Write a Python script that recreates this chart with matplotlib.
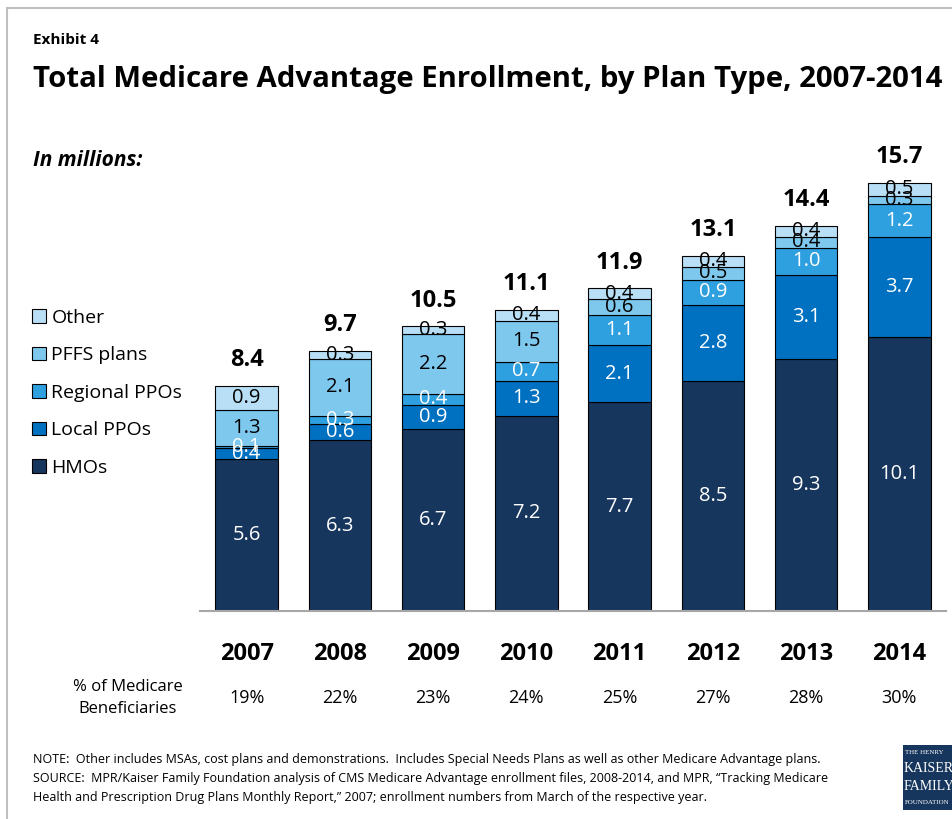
import matplotlib
matplotlib.use("Agg")
import matplotlib.pyplot as plt
from matplotlib.patches import Rectangle, Patch
import numpy as np

years = ["2007", "2008", "2009", "2010", "2011", "2012", "2013", "2014"]
hmos = [5.6, 6.3, 6.7, 7.2, 7.7, 8.5, 9.3, 10.1]
local_ppos = [0.4, 0.6, 0.9, 1.3, 2.1, 2.8, 3.1, 3.7]
regional_ppos = [0.1, 0.3, 0.4, 0.7, 1.1, 0.9, 1.0, 1.2]
pffs = [1.3, 2.1, 2.2, 1.5, 0.6, 0.5, 0.4, 0.3]
other = [0.9, 0.3, 0.3, 0.4, 0.4, 0.4, 0.4, 0.5]
totals = ["8.4", "9.7", "10.5", "11.1", "11.9", "13.1", "14.4", "15.7"]
pct = ["19%", "22%", "23%", "24%", "25%", "27%", "28%", "30%"]

series = [
    ("HMOs", hmos, "#17365D", "white"),
    ("Local PPOs", local_ppos, "#0070C0", "white"),
    ("Regional PPOs", regional_ppos, "#2E9FDF", "white"),
    ("PFFS plans", pffs, "#7EC8EE", "black"),
    ("Other", other, "#B8DFF6", "black"),
]

FONT = ["Open Sans", "DejaVu Sans"]
plt.rcParams["font.family"] = FONT

W, H = 953, 819
fig = plt.figure(figsize=(W / 100, H / 100), dpi=100)

def fx(px):
    return px / W

def fy(py):
    return 1 - py / H

# axes: x from 200 to 946 px, baseline at 611 px
ax_left, ax_right = 200, 946
base, top = 611, 150
ax = fig.add_axes([fx(ax_left), fy(base), fx(ax_right - ax_left), (base - top) / H])
x = np.arange(len(years))
ymax = 17.0
ax.set_xlim(-0.5, 7.5)
ax.set_ylim(0, ymax)

bottom = np.zeros(len(years))
handles = []
for name, vals, color, tcol in series:
    v = np.array(vals)
    ax.bar(x, v, 0.67, bottom=bottom, color=color, edgecolor="black", linewidth=0.8)
    for i in range(len(years)):
        ax.text(x[i], bottom[i] + v[i] / 2, f"{v[i]:.1f}", ha="center", va="center",
                color=tcol, fontsize=14.5)
    bottom = bottom + v
    handles.append(Patch(facecolor=color, edgecolor="black", linewidth=0.8, label=name))

for i in range(len(years)):
    ax.text(x[i], bottom[i] + 0.5, totals[i], ha="center", va="bottom",
            fontsize=17, fontweight="bold")

for s in ["top", "right", "left"]:
    ax.spines[s].set_visible(False)
ax.spines["bottom"].set_color("#a6a6a6")
ax.spines["bottom"].set_linewidth(1.5)
ax.set_yticks([])
ax.set_xticks(x)
ax.set_xticklabels(years, fontsize=17, fontweight="bold")
ax.tick_params(axis="x", length=0, pad=22)

# percent row
yrow = -(698 - base) / (base - top)
for i in range(len(years)):
    ax.text(x[i], yrow, pct[i], transform=ax.get_xaxis_transform(), ha="center", va="center",
            fontsize=13)
fig.text(fx(128), fy(698), "% of Medicare\nBeneficiaries", ha="center", va="center",
         fontsize=12, linespacing=1.5)

# legend
leg = fig.legend(handles=handles[::-1], loc="upper left",
                 bbox_to_anchor=(fx(32), fy(309)), frameon=False, fontsize=14,
                 handlelength=0.7, handleheight=0.7, handletextpad=0.3,
                 labelspacing=1.0, borderaxespad=0, borderpad=0)

# titles
fig.text(fx(33), fy(40), "Exhibit 4", ha="left", va="center", fontsize=11, fontweight="bold")
fig.text(fx(33), fy(80), "Total Medicare Advantage Enrollment, by Plan Type, 2007-2014",
         ha="left", va="center", fontsize=21.2, fontweight="bold")
fig.text(fx(33), fy(160), "In millions:", ha="left", va="center", fontsize=15,
         fontweight="bold", style="italic")

# notes
notes = [
    "NOTE:  Other includes MSAs, cost plans and demonstrations.  Includes Special Needs Plans as well as other Medicare Advantage plans.",
    "SOURCE:  MPR/Kaiser Family Foundation analysis of CMS Medicare Advantage enrollment files, 2008-2014, and MPR, \u201cTracking Medicare",
    "Health and Prescription Drug Plans Monthly Report,\u201d 2007; enrollment numbers from March of the respective year.",
]
for k, line in enumerate(notes):
    fig.text(fx(33), fy(760 + 18.5 * k), line, ha="left", va="center", fontsize=9)

# frame
fig.patches.append(Rectangle((fx(7), fy(H + 20)), fx(W + 20), fy(8) - fy(H + 20),
                             transform=fig.transFigure, fill=False,
                             edgecolor="#bfbfbf", linewidth=1.5))

# logo
fig.patches.append(Rectangle((fx(903), fy(810)), fx(60), (810 - 745) / H,
                             transform=fig.transFigure, facecolor="#17365D", edgecolor="none"))
serif = ["Liberation Serif", "DejaVu Serif"]
fig.text(fx(905), fy(752), "THE HENRY", ha="left", va="center", fontsize=5, color="white", family=serif)
fig.text(fx(904), fy(768), "KAISER", ha="left", va="center", fontsize=10, color="white", family=serif)
fig.text(fx(904), fy(786), "FAMILY", ha="left", va="center", fontsize=10, color="white", family=serif)
fig.text(fx(905), fy(803), "FOUNDATION", ha="left", va="center", fontsize=5, color="white", family=serif)

fig.savefig("out.png", dpi=100)
